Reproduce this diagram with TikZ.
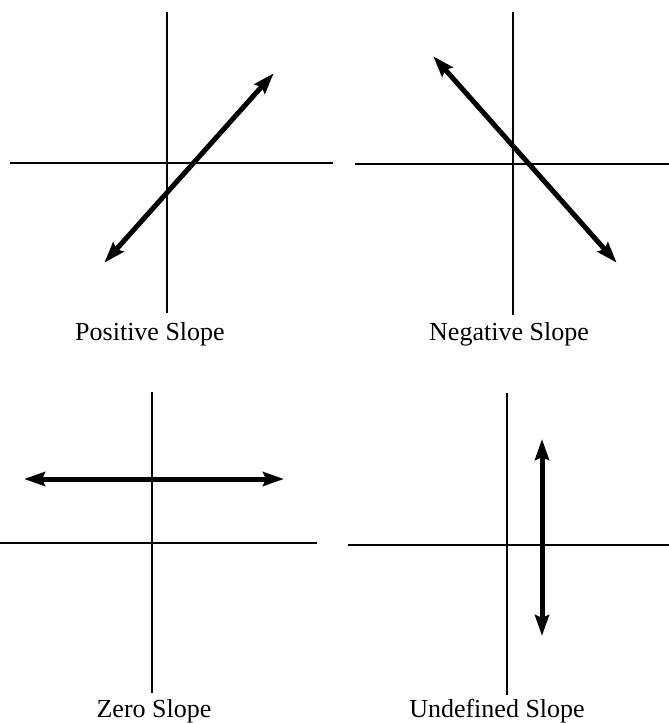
\documentclass[tikz,border=0pt]{standalone}
\usepackage{fontspec}
\setmainfont{Liberation Serif}
\usetikzlibrary{arrows.meta}
\tikzset{
  axisline/.style={line width=2.6pt, black},
  slopearrow/.style={line width=5pt, black, {Stealth[length=21pt,width=14pt,inset=3pt]}-{Stealth[length=21pt,width=14pt,inset=3pt]}, shorten <=-1pt, shorten >=-1pt},
  lbl/.style={anchor=base, inner sep=0pt, font=\fontsize{26}{30}\selectfont}
}
\begin{document}
\begin{tikzpicture}[x=1pt,y=-1pt]
\useasboundingbox (0,0) rectangle (669,723);
% Positive slope panel
\coordinate (pvt) at (167,12); \coordinate (pvb) at (167,313);
\coordinate (phl) at (10,163); \coordinate (phr) at (333,163);
\coordinate (pa1) at (105,262); \coordinate (pa2) at (273,74);
\draw[axisline] (pvt) -- (pvb);
\draw[axisline] (phl) -- (phr);
\draw[slopearrow] (pa1) -- (pa2);
\node[lbl] (lpos) at (150,340) {Positive Slope};
% Negative slope panel
\coordinate (nvt) at (513,12); \coordinate (nvb) at (513,315);
\coordinate (nhl) at (355,164); \coordinate (nhr) at (669,164);
\coordinate (na1) at (434,57); \coordinate (na2) at (616,262);
\draw[axisline] (nvt) -- (nvb);
\draw[axisline] (nhl) -- (nhr);
\draw[slopearrow] (na1) -- (na2);
\node[lbl] (lneg) at (509,340) {Negative Slope};
% Zero slope panel
\coordinate (zvt) at (152,392); \coordinate (zvb) at (152,693);
\coordinate (zhl) at (0,543); \coordinate (zhr) at (317,543);
\coordinate (za1) at (25,479); \coordinate (za2) at (283,479);
\draw[axisline] (zvt) -- (zvb);
\draw[axisline] (zhl) -- (zhr);
\draw[slopearrow] (za1) -- (za2);
\node[lbl] (lzero) at (154,717) {Zero Slope};
% Undefined slope panel
\coordinate (uvt) at (507,393); \coordinate (uvb) at (507,695);
\coordinate (uhl) at (348,545); \coordinate (uhr) at (669,545);
\coordinate (ua1) at (542,440); \coordinate (ua2) at (542,635);
\draw[axisline] (uvt) -- (uvb);
\draw[axisline] (uhl) -- (uhr);
\draw[slopearrow] (ua1) -- (ua2);
\node[lbl] (lund) at (497,717) {Undefined Slope};
\end{tikzpicture}
\end{document}
